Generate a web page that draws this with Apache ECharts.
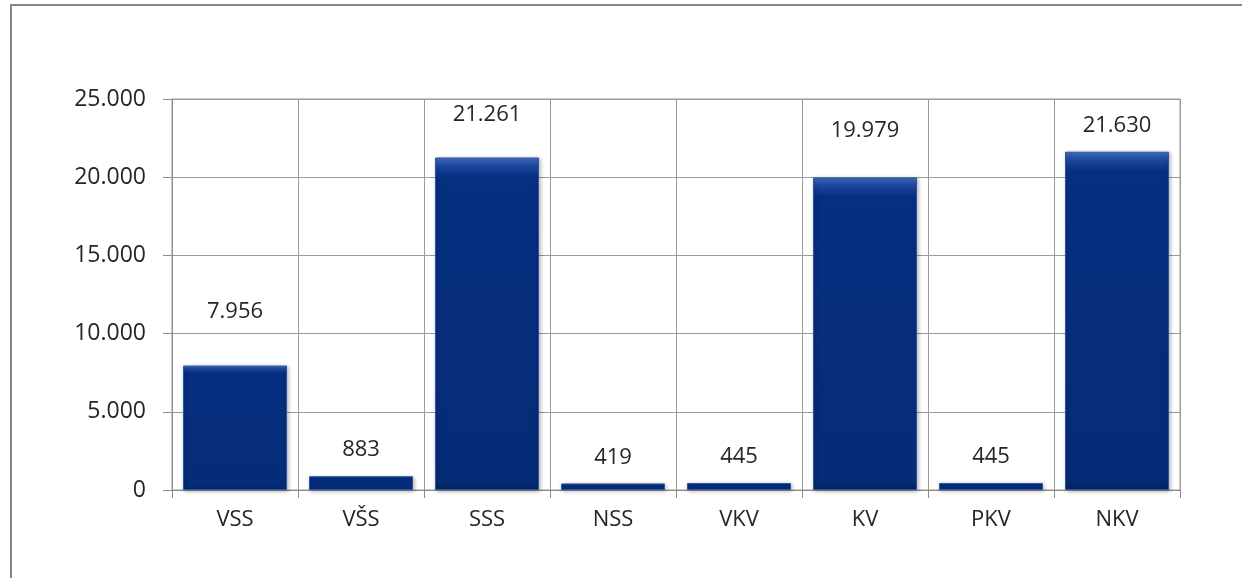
<!DOCTYPE html>
<html>
<head>
<meta charset="utf-8">
<script src="https://cdn.jsdelivr.net/npm/echarts@6/dist/echarts.min.js"></script>
<style>
html, body { margin: 0; padding: 0; background: #fff; }
#frame {
  position: absolute;
  left: 10px;
  top: 4px;
  width: 1300px;
  height: 700px;
  border-top: 2px solid #868686;
  border-left: 2px solid #868686;
}
#main { position: absolute; left: 0; top: 0; width: 1242px; height: 578px; }
</style>
</head>
<body>
<div id="frame"></div>
<div id="main"></div>
<script>
const categories = ['VSS', 'VŠS', 'SSS', 'NSS', 'VKV', 'KV', 'PKV', 'NKV']
const values = [7956, 883, 21261, 419, 445, 19979, 445, 21630]
const yTicks = { min: 0, max: 25000, step: 5000 }

// 21630 -> 21.630
function fmt (v) {
  return String(v).replace(/\B(?=(\d{3})+(?!\d))/g, '.')
}

const font = '"Open Sans", "Noto Sans", sans-serif'
// excel placed some labels a bit higher than others
const labelLift = [28, 0, 17, 0, 0, 21, 0, 0]

var myChart = echarts.init(document.getElementById('main'))
var option = {
  animation: false,
  grid: {
    left: 172,
    right: 62,
    top: 99,
    bottom: 88,
    show: true,
    borderColor: '#9a9a9a',
    borderWidth: 1
  },
  xAxis: {
    type: 'category',
    data: categories,
    axisLine: { lineStyle: { color: '#8c8c8c' } },
    axisTick: { show: true, length: 8, lineStyle: { color: '#8c8c8c' } },
    splitLine: { show: true, lineStyle: { color: '#9a9a9a' } },
    axisLabel: { color: '#262626', fontSize: 22, fontFamily: font, margin: 19 }
  },
  yAxis: {
    type: 'value',
    min: yTicks.min,
    max: yTicks.max,
    interval: yTicks.step,
    axisLine: { show: true, lineStyle: { color: '#8c8c8c' } },
    axisTick: { show: true, length: 9, lineStyle: { color: '#8c8c8c' } },
    splitLine: { show: true, lineStyle: { color: '#9a9a9a' } },
    axisLabel: { color: '#262626', fontSize: 23, fontFamily: font, margin: 26, formatter: fmt }
  },
  series: [
    {
      type: 'bar',
      data: values.map((v, i) => ({ value: v, label: { distance: 15 + labelLift[i] } })),
      barWidth: 104,
      itemStyle: {
        color: {
          type: 'linear', x: 0, y: 0, x2: 0, y2: 1,
          colorStops: [
            { offset: 0, color: '#4670c2' },
            { offset: 0.025, color: '#1d479e' },
            { offset: 0.06, color: '#062f80' },
            { offset: 0.97, color: '#052c78' },
            { offset: 1, color: '#04235f' }
          ]
        },
        borderColor: '#2c55a6',
        borderWidth: 1,
        shadowColor: 'rgba(0,0,0,0.3)',
        shadowBlur: 4,
        shadowOffsetX: 1,
        shadowOffsetY: 1
      },
      label: {
        show: true,
        position: 'top',
        distance: 15,
        color: '#262626',
        fontSize: 22,
        fontFamily: font,
        formatter: p => fmt(p.value)
      }
    }
  ]
}
option && myChart.setOption(option)
</script>
</body>
</html>
